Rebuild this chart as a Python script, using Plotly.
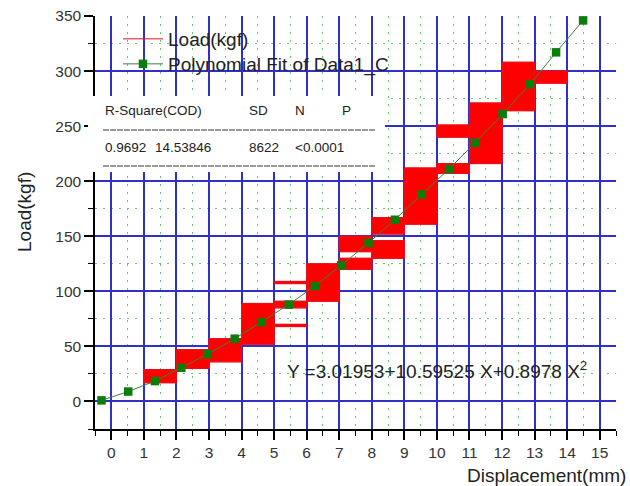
import plotly.graph_objects as go

# ---- data ----
# Load(kgf) raw data appears as dense red step blocks: (x start, x end, y low, y high)
block_x0 = [1, 2, 3, 4, 5, 5, 5, 6, 7, 7, 8, 8, 9, 10, 10, 11, 12, 13]
block_x1 = [2, 3, 4, 5, 6, 6, 6, 7, 8, 8, 9, 9, 10, 11, 11, 12, 13, 14]
block_ylo = [17, 30, 36, 52, 85, 68, 107, 91, 136, 120, 152, 130, 161, 207, 240, 216, 264, 289]
block_yhi = [29, 47, 57, 89, 91, 70, 109, 125, 150, 130, 167, 146, 212, 216, 251, 271, 308, 300]

# Polynomial fit points (markers)
fit_x = [-0.30, 0.52, 1.34, 2.15, 2.96, 3.79, 4.61, 5.45, 6.25, 7.06, 7.90, 8.71,
         9.53, 10.37, 11.17, 12.02, 12.86, 13.66, 14.49]
fit_y = [1, 9, 18.5, 30.6, 43, 57, 72, 88, 104.8, 123.6, 144, 165,
         188, 211, 234.8, 261, 288, 317, 346]

stats_header = ["R-Square(COD)", "SD", "N", "P"]
stats_values = ["0.9692", "14.53846", "8622", "<0.0001"]
equation = "Y =3.01953+10.59525 X+0.8978 X<sup>2</sup>"

# ---- layout geometry (pixels) ----
W, H = 630, 486
ML, MR, MT, MB = 95, 14, 16, 57
PW, PH = W - ML - MR, H - MT - MB

def px(xp):
    return (xp - ML) / PW

def py(yp):
    return (H - MB - yp) / PH

FONT = "Liberation Sans, Arial, sans-serif"
TXT = "#222222"

# build block polygons
bx, by = [], []
for x0, x1, y0, y1 in zip(block_x0, block_x1, block_ylo, block_yhi):
    bx += [x0, x1, x1, x0, x0, None]
    by += [y0, y0, y1, y1, y0, None]

fig = go.Figure()
fig.add_trace(go.Scatter(x=bx, y=by, mode="lines", fill="toself",
                         fillcolor="#ff0000", line=dict(color="#ff0000", width=1),
                         showlegend=False, hoverinfo="skip"))
fig.add_trace(go.Scatter(x=bx, y=by, mode="lines", name="Load(kgf)",
                         line=dict(color="#e8101a", width=1), legend="legend"))
fig.add_trace(go.Scatter(x=fit_x, y=fit_y, mode="lines+markers",
                         name="Polynomial Fit of Data1_C", legend="legend2",
                         line=dict(color="#3f7f3f", width=1),
                         marker=dict(symbol="square", size=8.5, color="#0b7d0b")))

axis_common = dict(
    showline=True, linecolor="black", linewidth=1.5, mirror=False,
    ticks="outside", ticklen=9, tickwidth=1.5, tickcolor="black",
    showgrid=True, gridcolor="#3030c8", gridwidth=1.5, zeroline=False,
    tickfont=dict(family=FONT, size=15.5, color="#333333"),
    layer="below traces", automargin=False,
)
minor_common = dict(ticklen=5, tickwidth=1.2, tickcolor="black", ticks="outside",
                    showgrid=True, gridcolor="#66c866", gridwidth=1,
                    griddash="2px,6px")

legend_common = dict(xanchor="left", yanchor="middle",
                     bgcolor="rgba(0,0,0,0)", borderwidth=0,
                     font=dict(family=FONT, size=19, color=TXT),
                     itemwidth=40)

fig.update_layout(
    width=W, height=H,
    margin=dict(l=ML, r=MR, t=MT, b=MB, autoexpand=False),
    paper_bgcolor="white", plot_bgcolor="white",
    xaxis=dict(range=[-0.5, 15.5], tickmode="linear", tick0=0, dtick=1,
               minor=dict(tickmode="linear", tick0=0, dtick=0.5, **minor_common),
               **axis_common),
    yaxis=dict(range=[-25, 350], tickmode="linear", tick0=0, dtick=50,
               minor=dict(tickmode="linear", tick0=0, dtick=25, **minor_common),
               **axis_common),
    legend=dict(x=px(118), y=py(39), **legend_common),
    legend2=dict(x=px(118), y=py(64), **legend_common),
    showlegend=True,
)

shapes = [
    dict(type="rect", xref="paper", yref="paper", x0=px(88), x1=px(385),
         y0=py(172), y1=py(96), fillcolor="white", line=dict(width=0), layer="above"),
    dict(type="line", xref="paper", yref="paper", x0=px(103), x1=px(375),
         y0=py(130), y1=py(130), line=dict(color="#333333", width=1, dash="6px,1px"), layer="above"),
    dict(type="line", xref="paper", yref="paper", x0=px(103), x1=px(375),
         y0=py(166), y1=py(166), line=dict(color="#333333", width=1, dash="6px,1px"), layer="above"),
]
fig.update_layout(shapes=shapes)

ann = []
hdr_x = [103, 247, 293, 340]
for t, xp in zip(stats_header, hdr_x):
    ann.append(dict(text=t, x=px(xp), y=py(111), xref="paper", yref="paper",
                    xanchor="left", yanchor="middle", showarrow=False,
                    font=dict(family=FONT, size=13.5, color=TXT)))
val_x = [103, 153, 247, 293]
for t, xp in zip(stats_values, val_x):
    ann.append(dict(text=t, x=px(xp), y=py(147), xref="paper", yref="paper",
                    xanchor="left", yanchor="middle", showarrow=False,
                    font=dict(family=FONT, size=13.5, color=TXT)))
ann.append(dict(text=equation, x=px(285), y=py(370), xref="paper", yref="paper",
                xanchor="left", yanchor="middle", showarrow=False,
                font=dict(family=FONT, size=19, color=TXT)))
ann.append(dict(text="Load(kgf)", x=px(25), y=py(212), xref="paper", yref="paper",
                xanchor="center", yanchor="middle", showarrow=False, textangle=-90,
                font=dict(family=FONT, size=19, color=TXT)))
ann.append(dict(text="Displacement(mm)", x=px(628), y=py(475), xref="paper", yref="paper",
                xanchor="right", yanchor="middle", showarrow=False,
                font=dict(family=FONT, size=19, color=TXT)))
fig.update_layout(annotations=ann)

fig.write_html("out.html", config={"displayModeBar": False},
               post_script="document.body.style.margin='0';document.body.style.overflow='hidden';")
